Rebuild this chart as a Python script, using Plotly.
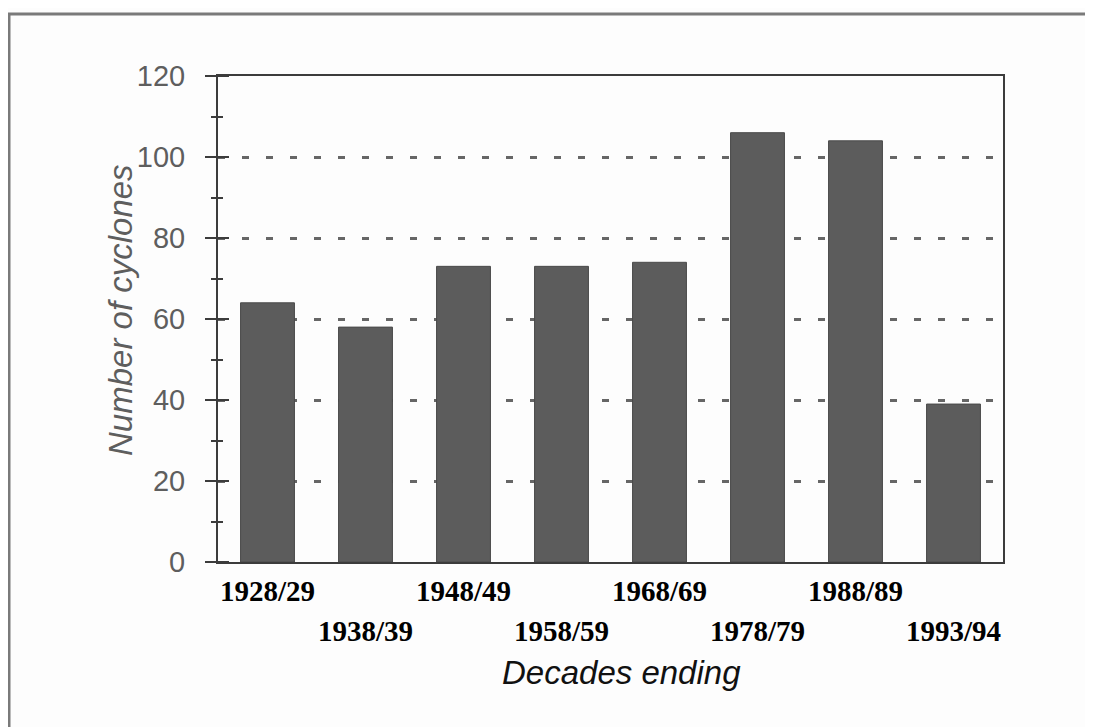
import plotly.graph_objects as go

# ---- data ----
decades = ["1928/29", "1938/39", "1948/49", "1958/59", "1968/69", "1978/79", "1988/89", "1993/94"]
cyclones = [64, 58, 73, 73, 74, 106, 104, 39]
y_ticks = [0, 20, 40, 60, 80, 100, 120]
y_title = "Number of cyclones"
x_title = "Decades ending"

AXIS = "#3c3c3c"
GRID = "#666666"
BAR = "#5c5c5c"
TXT_GREY = "#5e5e5e"

W, H = 1085, 719
ML, MR, MT, MB = 210, 90, 68, 165
pw = W - ML - MR
ph = H - MT - MB

fig = go.Figure()
fig.add_trace(go.Bar(
    x=decades, y=cyclones,
    marker=dict(color=BAR, line=dict(color="#4a4a4a", width=1)),
    hoverinfo="x+y",
))
# invisible companion traces so the overlaying tick axes are drawn
for ax in ("y2", "y3"):
    fig.add_trace(go.Scatter(
        x=decades, y=cyclones, yaxis=ax, mode="markers",
        marker=dict(opacity=0), hoverinfo="skip", showlegend=False,
    ))

fig.update_layout(
    width=W, height=H,
    margin=dict(l=ML, r=MR, t=MT, b=MB),
    paper_bgcolor="#fdfdfd", plot_bgcolor="#fdfdfd",
    bargap=0.45,
    showlegend=False,
    xaxis=dict(
        type="category",
        showticklabels=False,
        ticks="",
        showgrid=False,
        showline=True, linecolor=AXIS, linewidth=2, mirror=True,
        zeroline=False,
    ),
    yaxis=dict(
        range=[0, 120],
        tickvals=y_ticks,
        ticks="outside", ticklen=11, tickwidth=2, tickcolor=AXIS,
        minor=dict(dtick=10, tick0=0, ticks="outside", ticklen=5, tickwidth=2, tickcolor=AXIS, showgrid=False),
        ticklabelstandoff=14,
        tickfont=dict(family="Liberation Sans, Arial", size=29, color=TXT_GREY),
        showgrid=True, gridcolor=GRID, gridwidth=2.5, griddash="7px,17px",
        showline=True, linecolor=AXIS, linewidth=2, mirror=True,
        zeroline=False,
    ),
    # tick axes shifted right so their ticks cross the main axis line
    yaxis2=dict(
        overlaying="y", side="left", anchor="free", position=11 / pw,
        range=[0, 120],
        tickvals=y_ticks,
        ticks="outside", ticklen=22, tickwidth=2, tickcolor=AXIS,
        showticklabels=False, showgrid=False, showline=False, zeroline=False,
    ),
    yaxis3=dict(
        overlaying="y", side="left", anchor="free", position=5 / pw,
        range=[0, 120],
        tickvals=y_ticks, ticks="", 
        minor=dict(dtick=10, tick0=0, ticks="outside", ticklen=10, tickwidth=2, tickcolor=AXIS, showgrid=False),
        showticklabels=False, showgrid=False, showline=False, zeroline=False,
    ),
)

# staggered category labels
annotations = []
for i, lab in enumerate(decades):
    annotations.append(dict(
        x=lab, xref="x", y=0, yref="paper",
        text=f"<b>{lab}</b>", showarrow=False,
        xanchor="center", yanchor="middle",
        yshift=-29 if i % 2 == 0 else -69,
        font=dict(family="Liberation Serif, Times New Roman", size=29, color="#000000"),
    ))
annotations.append(dict(
    x=0.5, xref="paper", y=0, yref="paper", text=f"<i>{x_title}</i>",
    showarrow=False, xanchor="center", yanchor="middle", xshift=11, yshift=-110,
    font=dict(family="Liberation Sans, Arial", size=33, color="#111111"),
))
annotations.append(dict(
    x=0, xref="paper", y=0.5, yref="paper", text=f"<i>{y_title}</i>",
    showarrow=False, xanchor="center", yanchor="middle", textangle=-90,
    xshift=-98, yshift=9,
    font=dict(family="Liberation Sans, Arial", size=33, color=TXT_GREY),
))
fig.update_layout(annotations=annotations)

# outer frame of the scanned figure
fig.add_shape(
    type="rect", xref="paper", yref="paper",
    x0=(1 - ML) / pw, x1=(W + 20 - ML) / pw,
    y0=(ph + MT - (H + 20)) / ph, y1=(ph + MT - 6) / ph,
    line=dict(color="#7a7a7a", width=3), fillcolor="rgba(0,0,0,0)", layer="above",
)

fig.write_html("out.html")
